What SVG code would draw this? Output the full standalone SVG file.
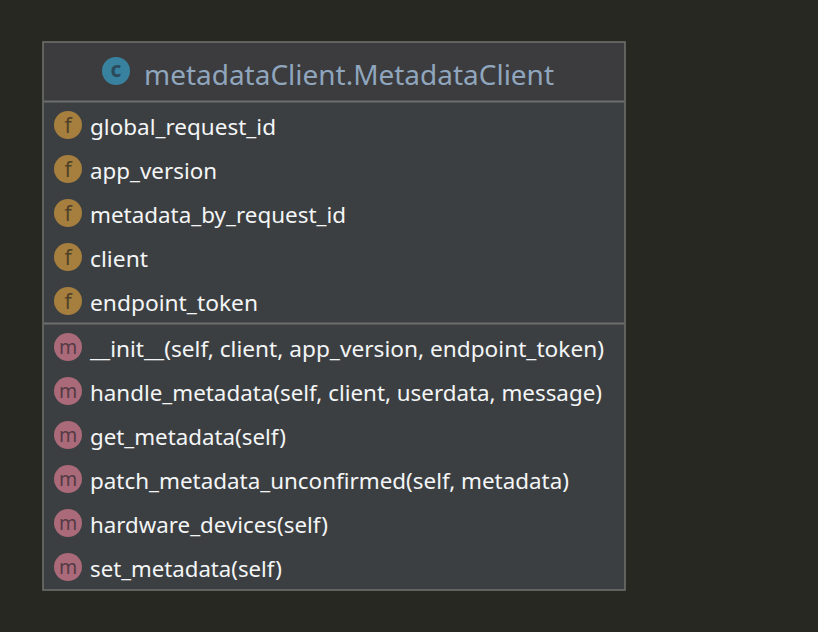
<svg xmlns="http://www.w3.org/2000/svg" width="818" height="632" viewBox="0 0 818 632">
<style>
.t{font-family:"Noto Sans","Open Sans","Liberation Sans",sans-serif;font-size:22.5px;fill:#f3f5f6}
.title{font-family:"Noto Sans","Open Sans","Liberation Sans",sans-serif;font-size:28px;fill:#8fa6bd}
.ic{font-family:"Noto Sans","Open Sans","Liberation Sans",sans-serif;font-size:21px;text-anchor:middle}
.f circle{fill:#a67f3f}.f .ic{fill:#4f4128}
.m circle{fill:#aa6a7a}.m .ic{fill:#553a44;font-size:19.5px}
.div{stroke:#6d6f6e;stroke-width:2}
</style>
<rect width="818" height="632" fill="#272822"/>
<g id="class">
<rect x="43" y="42" width="582" height="548" fill="#3c3f41" stroke="#6d6f6b" stroke-width="1.6"/>
<rect x="44" y="43" width="580" height="58" fill="#3c3b3d"/>
<line class="div" x1="44" y1="101.500" x2="624" y2="101.500"/>
<line class="div" x1="44" y1="323.500" x2="624" y2="323.500"/>
<g id="title"><circle cx="116" cy="71" r="14" fill="#38829f"/><text x="116" y="77" class="ic" font-weight="700" fill="#2b4a5c">c</text><text x="144" y="85" class="title" textLength="410" lengthAdjust="spacingAndGlyphs">metadataClient.MetadataClient</text></g>
<g id="f1" class="f"><circle cx="68" cy="125" r="14"/><text x="68" y="133" class="ic">f</text><text x="90" y="135" class="t" textLength="186" lengthAdjust="spacingAndGlyphs">global_request_id</text></g>
<g id="f2" class="f"><circle cx="68" cy="169" r="14"/><text x="68" y="177" class="ic">f</text><text x="90" y="179" class="t" textLength="127" lengthAdjust="spacingAndGlyphs">app_version</text></g>
<g id="f3" class="f"><circle cx="68" cy="213" r="14"/><text x="68" y="221" class="ic">f</text><text x="90" y="223" class="t" textLength="256" lengthAdjust="spacingAndGlyphs">metadata_by_request_id</text></g>
<g id="f4" class="f"><circle cx="68" cy="257" r="14"/><text x="68" y="265" class="ic">f</text><text x="90" y="267" class="t" textLength="58" lengthAdjust="spacingAndGlyphs">client</text></g>
<g id="f5" class="f"><circle cx="68" cy="301" r="14"/><text x="68" y="309" class="ic">f</text><text x="90" y="311" class="t" textLength="168" lengthAdjust="spacingAndGlyphs">endpoint_token</text></g>
<g id="m1" class="m"><circle cx="68" cy="347" r="14"/><text x="68" y="354" class="ic">m</text><text x="90" y="357" class="t" textLength="514" lengthAdjust="spacingAndGlyphs">__init__(self, client, app_version, endpoint_token)</text></g>
<g id="m2" class="m"><circle cx="68" cy="391" r="14"/><text x="68" y="398" class="ic">m</text><text x="90" y="401" class="t" textLength="512" lengthAdjust="spacingAndGlyphs">handle_metadata(self, client, userdata, message)</text></g>
<g id="m3" class="m"><circle cx="68" cy="435" r="14"/><text x="68" y="442" class="ic">m</text><text x="90" y="445" class="t" textLength="196" lengthAdjust="spacingAndGlyphs">get_metadata(self)</text></g>
<g id="m4" class="m"><circle cx="68" cy="479" r="14"/><text x="68" y="486" class="ic">m</text><text x="90" y="489" class="t" textLength="479" lengthAdjust="spacingAndGlyphs">patch_metadata_unconfirmed(self, metadata)</text></g>
<g id="m5" class="m"><circle cx="68" cy="523" r="14"/><text x="68" y="530" class="ic">m</text><text x="90" y="533" class="t" textLength="238" lengthAdjust="spacingAndGlyphs">hardware_devices(self)</text></g>
<g id="m6" class="m"><circle cx="68" cy="567" r="14"/><text x="68" y="574" class="ic">m</text><text x="90" y="577" class="t" textLength="192" lengthAdjust="spacingAndGlyphs">set_metadata(self)</text></g>
</g>
</svg>
